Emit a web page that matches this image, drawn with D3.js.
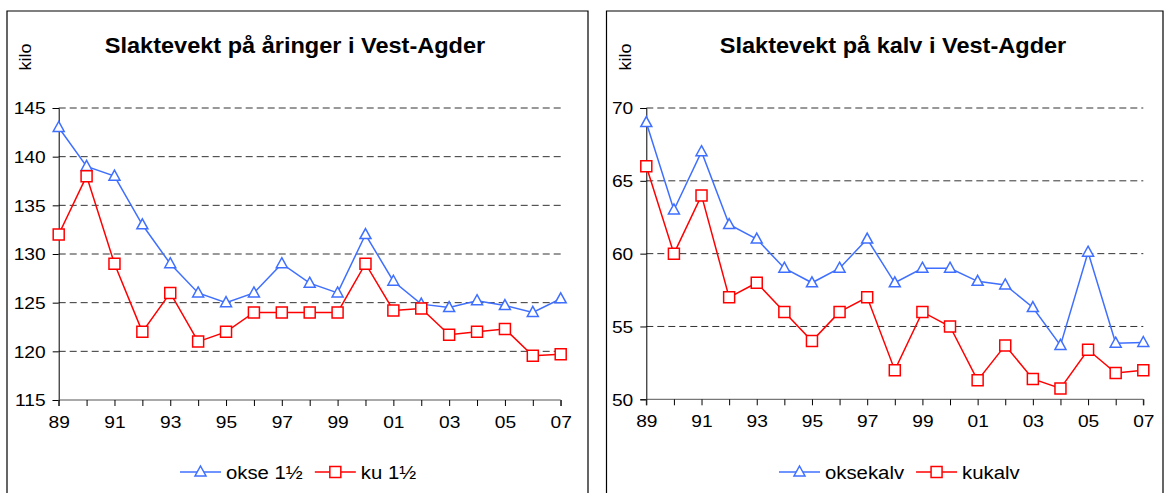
<!DOCTYPE html>
<html>
<head>
<meta charset="utf-8">
<script src="https://cdn.jsdelivr.net/npm/d3@7"></script>
<style>
  body { margin: 0; background: #fff; }
  svg text { font-family: "Liberation Sans", Arial, sans-serif; fill: #000; }
</style>
</head>
<body>
<svg id="chart" width="1168" height="493"></svg>
<script>
// Years on the category axis, labels every second year.
const years = ['89','90','91','92','93','94','95','96','97','98','99','00','01','02','03','04','05','06','07'];

// Left panel: yearlings.
const okse15 = [143, 139, 138, 133, 129, 126, 125, 126, 129, 127, 126, 132, 127.2, 124.85, 124.5, 125.2, 124.7, 124, 125.4];
const ku15   = [132, 138, 129, 122, 126, 121, 122, 124, 124, 124, 124, 129, 124.2, 124.4, 121.7, 122, 122.3, 119.55, 119.7];
const leftTicks = [115, 120, 125, 130, 135, 140, 145];

// Right panel: calves.
const oksekalv = [69, 63, 67, 62, 61, 59, 58, 59, 61, 58, 59, 59, 58.1, 57.85, 56.3, 53.7, 60.1, 53.85, 53.9];
const kukalv   = [66, 60, 64, 57, 58, 56, 54, 56, 57, 52, 56, 55, 51.3, 53.7, 51.4, 50.75, 53.4, 51.8, 52];
const rightTicks = [50, 55, 60, 65, 70];

const BLUE = '#3f6fff';
const RED = '#ff0000';
// The source picture has its text a little wider than the font draws it.
const STRETCH = 1.13;

const svg = d3.select('#chart');

// Put a text at (x, y), widened horizontally.
function wideText(parent, x, y, str, size, sx){
  return parent.append('text')
    .attr('transform', 'translate(' + x + ',' + y + ') scale(' + sx + ',1)')
    .style('font-size', size + 'px')
    .text(str);
}

function drawPanel(opts){
  const g = svg.append('g');

  // Outer frame (open at the bottom, runs off the picture).
  g.append('path')
    .attr('d', 'M' + opts.frame[0] + ',500V' + opts.top + 'H' + opts.frame[1] + 'V500')
    .attr('fill', 'none')
    .attr('stroke', '#000')
    .attr('stroke-width', 1.2);

  const x = d3.scalePoint()
    .domain(years)
    .range([opts.x0, opts.x1]);
  const y = d3.scaleLinear()
    .domain(d3.extent(opts.ticks))
    .range([opts.y1, opts.y0]);

  // Dashed gridlines.
  g.append('g')
    .selectAll('line')
    .data(opts.ticks.slice(1))
    .enter()
    .append('line')
      .attr('x1', opts.x0)
      .attr('x2', opts.x1)
      .attr('y1', d => y(d))
      .attr('y2', d => y(d))
      .attr('stroke', '#333')
      .attr('stroke-dasharray', '7,4');

  // Y axis.
  const yAxis = g.append('g')
    .attr('transform', 'translate(' + opts.x0 + ',0)')
    .call(d3.axisLeft(y).tickValues(opts.ticks).tickSize(6).tickPadding(7));
  yAxis.select('.domain').attr('stroke', '#000');
  yAxis.selectAll('.tick line').attr('stroke', '#000');
  yAxis.selectAll('text')
    .style('font-size', '17px')
    .attr('dy', '0.35em')
    .attr('x', -13 / STRETCH)
    .attr('transform', 'scale(' + STRETCH + ',1)');

  // X axis.
  const xAxis = g.append('g')
    .attr('transform', 'translate(0,' + opts.y1 + ')')
    .call(d3.axisBottom(x).tickSize(6).tickPadding(10)
      .tickFormat((d, i) => i % 2 === 0 ? d : ''));
  xAxis.select('.domain').attr('stroke', '#555').attr('d', 'M' + opts.x0 + ',6V0H' + opts.x1 + 'V6');
  xAxis.selectAll('.tick line').attr('stroke', '#000');
  xAxis.selectAll('text')
    .style('font-size', '17px')
    .attr('transform', 'scale(' + STRETCH + ',1)');

  // Series.
  const line = d3.line()
    .x((d, i) => x(years[i]))
    .y(d => y(d));

  opts.series.forEach(s => {
    g.append('path')
      .datum(s.values)
      .attr('d', line)
      .attr('fill', 'none')
      .attr('stroke', s.color)
      .attr('stroke-width', 1.5);
    g.append('g')
      .selectAll('path')
      .data(s.values)
      .enter()
      .append('path')
        .attr('transform', (d, i) => 'translate(' + x(years[i]) + ',' + y(d) + ')')
        .attr('d', s.shape)
        .attr('fill', '#fff')
        .attr('stroke', s.color)
        .attr('stroke-width', 1.5);
  });

  // Title and unit label.
  wideText(g, opts.titleX, 53, opts.title, 22, 1.07)
    .attr('text-anchor', 'middle')
    .style('font-weight', 'bold');
  g.append('text')
    .attr('transform', 'translate(' + (opts.frame[0] + 24) + ',57) rotate(-90) scale(' + STRETCH + ',1)')
    .attr('text-anchor', 'middle')
    .style('font-size', '16px')
    .text('kilo');

  // Legend.
  const leg = g.append('g').attr('transform', 'translate(' + opts.legendX + ',472)');
  let lx = 0;
  opts.series.forEach(s => {
    const item = leg.append('g').attr('transform', 'translate(' + lx + ',0)');
    item.append('line')
      .attr('x1', 0).attr('x2', 41)
      .attr('stroke', s.color).attr('stroke-width', 1.5);
    item.append('path')
      .attr('transform', 'translate(20.5,0)')
      .attr('d', s.shape)
      .attr('fill', '#fff')
      .attr('stroke', s.color)
      .attr('stroke-width', 1.5);
    const t = wideText(item, 46, 7, s.name, 18, STRETCH);
    lx += 46 + t.node().getComputedTextLength() * STRETCH + 12;
  });
}

const triangle = 'M0,-6L5.5,4L-5.5,4Z';
const square = 'M-5.5,-5.5H5.5V5.5H-5.5Z';

drawPanel({
  frame: [7, 588], top: 11,
  x0: 58.7, x1: 560.7, y0: 108, y1: 400,
  ticks: leftTicks,
  title: 'Slaktevekt på åringer i Vest-Agder',
  titleX: 295,
  legendX: 180,
  series: [
    { name: 'okse 1½', values: okse15, color: BLUE, shape: triangle },
    { name: 'ku 1½', values: ku15, color: RED, shape: square }
  ]
});

drawPanel({
  frame: [606.5, 1163], top: 11,
  x0: 646.3, x1: 1143.3, y0: 108, y1: 399.3,
  ticks: rightTicks,
  title: 'Slaktevekt på kalv i Vest-Agder',
  titleX: 893,
  legendX: 779,
  series: [
    { name: 'oksekalv', values: oksekalv, color: BLUE, shape: triangle },
    { name: 'kukalv', values: kukalv, color: RED, shape: square }
  ]
});
</script>
</body>
</html>
